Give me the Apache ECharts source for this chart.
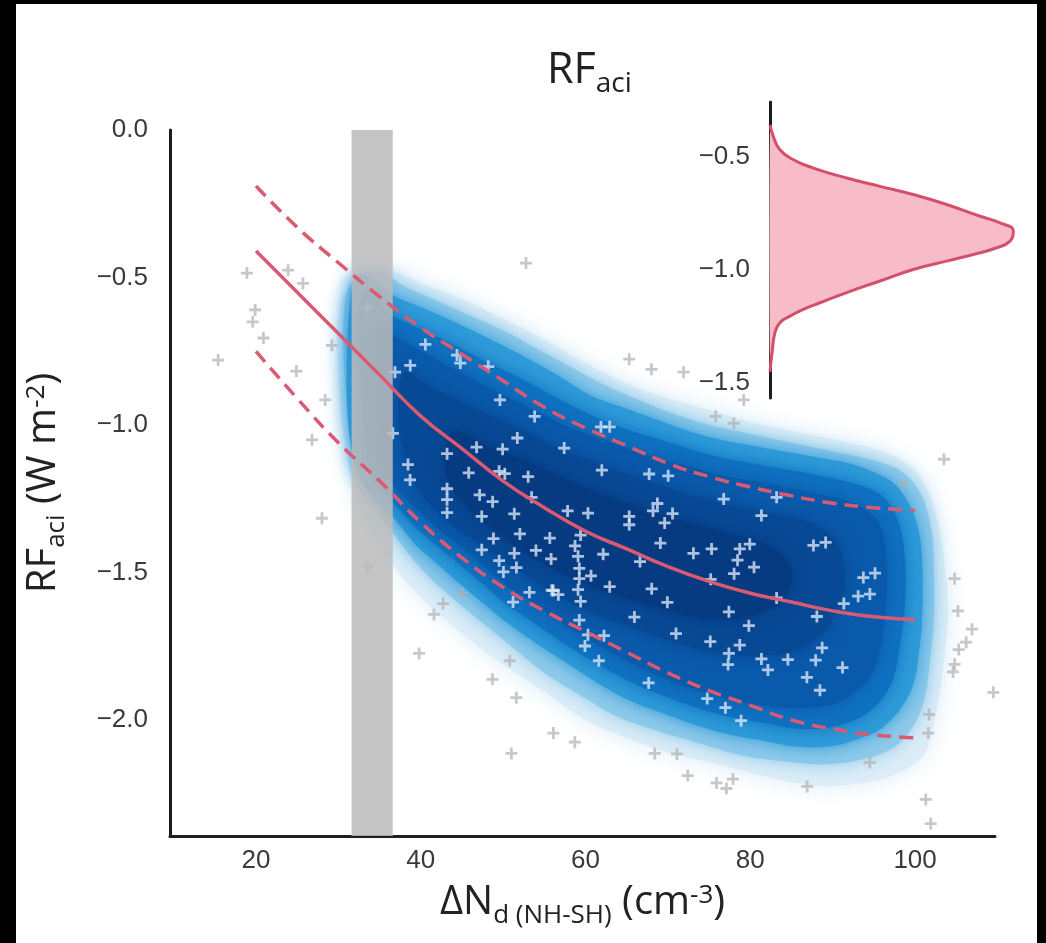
<!DOCTYPE html>
<html>
<head>
<meta charset="utf-8">
<script src="https://cdn.jsdelivr.net/npm/echarts@6/dist/echarts.min.js"></script>
<style>
html,body{margin:0;padding:0;background:#fff;}
#chart{width:1046px;height:943px;}
</style>
</head>
<body>
<div id="chart"></div>
<script>
// ---------- data ----------
const xTicks = [20, 40, 60, 80, 100];
const yTicks = [0, -0.5, -1.0, -1.5, -2.0];
const insetTicks = [-0.5, -1.0, -1.5];

// fitted relation and its bounds
const fitX     = [20, 25, 30, 35, 40, 45, 50, 55, 60, 65, 70, 75, 80, 85, 90, 95, 100];
const fitMid   = [-0.41, -0.55, -0.69, -0.83, -0.97, -1.08, -1.19, -1.28, -1.36, -1.42, -1.48, -1.53, -1.57, -1.60, -1.63, -1.65, -1.66];
const fitUpper = [-0.19, -0.33, -0.45, -0.565, -0.67, -0.76, -0.85, -0.94, -1.01, -1.07, -1.13, -1.175, -1.21, -1.24, -1.265, -1.28, -1.29];
const fitLower = [-0.75, -0.91, -1.06, -1.19, -1.33, -1.45, -1.55, -1.63, -1.70, -1.77, -1.84, -1.90, -1.95, -2.00, -2.03, -2.05, -2.06];

// observational constraint band (x range)
const bandX = [31.6, 36.6];

// density cloud: nested contour outlines [x, y], outer to inner
const cloudL0 = [[30,-0.62],[31.5,-0.52],[34,-0.46],[37,-0.48],[40,-0.52],[44.8,-0.57],[50,-0.64],[55,-0.71],[60.6,-0.80],[65,-0.86],[70,-0.91],[76.4,-0.96],[80,-0.99],[85,-1.02],[92,-1.06],[97,-1.10],[100.5,-1.17],[102.5,-1.3],[103.5,-1.45],[104,-1.62],[103.5,-1.8],[102.5,-1.98],[101,-2.12],[97,-2.19],[92,-2.22],[87,-2.22],[81.6,-2.19],[76,-2.15],[70,-2.11],[65.8,-2.07],[60,-2.0],[55.3,-1.91],[51,-1.83],[47.4,-1.76],[43,-1.66],[39.5,-1.57],[36,-1.45],[33,-1.3],[31,-1.1],[30,-0.85]];
const cloudL1 = [[30.8,-0.58],[32.5,-0.49],[35,-0.48],[38,-0.53],[42,-0.58],[46,-0.63],[50,-0.68],[54,-0.74],[58,-0.80],[62,-0.86],[66,-0.91],[70,-0.955],[75,-1.0],[80,-1.03],[85,-1.06],[90,-1.09],[95,-1.12],[98.5,-1.16],[100.8,-1.24],[102,-1.36],[102.3,-1.5],[102.3,-1.65],[101.8,-1.8],[100.8,-1.96],[98,-2.08],[94,-2.13],[89,-2.15],[84,-2.14],[79,-2.12],[74,-2.08],[69,-2.04],[64,-1.99],[59,-1.91],[55,-1.84],[51,-1.75],[47.5,-1.67],[44,-1.59],[40.5,-1.5],[37,-1.38],[34,-1.25],[32,-1.1],[30.8,-0.85]];
const cloudL2 = [[31.8,-0.50],[33,-0.49],[36.6,-0.56],[40,-0.60],[44.8,-0.66],[48.5,-0.71],[52.7,-0.77],[56.5,-0.83],[60.6,-0.90],[64.5,-0.94],[68.5,-0.98],[72.5,-1.02],[76.4,-1.05],[80.3,-1.07],[84.2,-1.09],[88.2,-1.11],[92.1,-1.13],[95,-1.16],[97.5,-1.2],[99.5,-1.28],[100.6,-1.38],[100.9,-1.5],[100.9,-1.62],[100.6,-1.74],[99.5,-1.9],[96.3,-2.02],[92.5,-2.07],[89.5,-2.09],[85.5,-2.09],[81.6,-2.07],[77.6,-2.05],[73.7,-2.02],[69.7,-1.98],[65.8,-1.94],[61.8,-1.88],[57.9,-1.81],[54,-1.74],[50,-1.66],[47.4,-1.60],[44.8,-1.54],[42,-1.47],[39.5,-1.41],[36.6,-1.31],[33.5,-1.22],[31.8,-1.12],[31,-0.85]];
const cloudL3 = [[33,-0.55],[36.6,-0.63],[40.4,-0.68],[44.8,-0.74],[48.6,-0.795],[52.7,-0.85],[56.6,-0.91],[60.6,-0.965],[64.5,-1.01],[68.5,-1.045],[72.5,-1.08],[76.4,-1.11],[80.3,-1.13],[84.2,-1.15],[88.2,-1.17],[92.1,-1.195],[96,-1.24],[98,-1.33],[98.8,-1.46],[98.8,-1.6],[98.3,-1.72],[97.2,-1.87],[94.5,-1.97],[90.5,-2.02],[86,-2.03],[81.6,-2.01],[77.6,-1.99],[73.7,-1.96],[69.7,-1.92],[65.8,-1.875],[61.8,-1.815],[57.9,-1.75],[54,-1.675],[50,-1.6],[47.4,-1.535],[44.8,-1.475],[42,-1.41],[39.5,-1.35],[36.6,-1.26],[34,-1.17],[32.8,-0.9]];
const cloudL4 = [[35,-0.66],[36.9,-0.70],[40.8,-0.76],[44.8,-0.82],[48.7,-0.88],[52.7,-0.935],[56.6,-0.99],[60.6,-1.035],[64.5,-1.075],[68.5,-1.11],[72.5,-1.14],[76.4,-1.17],[80.3,-1.19],[84.2,-1.21],[88.2,-1.235],[92.1,-1.26],[95.3,-1.32],[96.4,-1.42],[96.6,-1.55],[96.2,-1.68],[94.8,-1.84],[92,-1.92],[89.5,-1.95],[85.5,-1.96],[81.6,-1.95],[77.6,-1.93],[73.7,-1.90],[69.7,-1.86],[65.8,-1.81],[61.8,-1.75],[57.9,-1.685],[54,-1.61],[50,-1.535],[47.4,-1.47],[44.8,-1.41],[42,-1.35],[39.5,-1.285],[36.9,-1.21],[35,-1.12],[34.3,-0.9]];
const cloudL5 = [[38,-0.82],[41,-0.87],[44.8,-0.92],[48.7,-0.97],[52.7,-1.02],[56.6,-1.075],[60.6,-1.12],[64.5,-1.16],[68.5,-1.2],[72.5,-1.235],[76.4,-1.265],[80.3,-1.29],[84.2,-1.31],[88,-1.34],[90.5,-1.40],[91.5,-1.5],[91,-1.6],[89,-1.7],[86,-1.76],[82,-1.78],[78,-1.78],[74,-1.76],[70,-1.73],[66,-1.69],[62,-1.65],[58,-1.6],[54,-1.53],[50,-1.46],[46.5,-1.39],[43,-1.32],[40,-1.23],[38,-1.1],[37.3,-0.95]];
const cloudL6 = [[44,-1.02],[48,-1.07],[52.7,-1.12],[56.6,-1.17],[60.6,-1.22],[64.5,-1.26],[68.5,-1.3],[72.5,-1.33],[76.4,-1.36],[80.3,-1.39],[83.5,-1.43],[85,-1.5],[84,-1.59],[81,-1.64],[77,-1.66],[73,-1.65],[69,-1.62],[65,-1.59],[61,-1.55],[57,-1.5],[53,-1.44],[49.5,-1.37],[46,-1.29],[43.5,-1.2],[43,-1.1]];
const cloudLevels = [cloudL0, cloudL1, cloudL2, cloudL3, cloudL4, cloudL5, cloudL6];
const cloudColors = ['#dcedf7', '#8fcaea', '#2f9bd8', '#0f72c0', '#0a5aab', '#084995', '#063b82'];

// ensemble members: points over the cloud (light) and outside it (grey)
const membersIn = [[40.56,-0.727],[36.87,-0.821],[38.72,-0.798],[44.4,-0.763],[44.8,-0.79],[48.19,-0.802],[49.61,-0.915],[53.82,-0.971],[51.72,-1.044],[49.93,-1.082],[46.77,-1.075],[57.40,-1.078],[61.87,-1.006],[62.93,-1.006],[43.19,-1.097],[45.82,-1.162],[49.51,-1.157],[50.2,-1.165],[53.03,-1.175],[61.98,-1.153],[67.72,-1.166],[70.03,-1.172],[43.19,-1.216],[43.19,-1.253],[43.19,-1.297],[47.14,-1.237],[48.72,-1.260],[53.45,-1.245],[47.40,-1.310],[51.35,-1.301],[57.82,-1.291],[60.3,-1.299],[65.30,-1.310],[65.30,-1.338],[68.72,-1.266],[68.19,-1.291],[70.56,-1.300],[69.6,-1.332],[76.77,-1.251],[81.35,-1.307],[83.19,-1.245],[48.82,-1.385],[52.03,-1.369],[55.66,-1.383],[59.40,-1.373],[47.40,-1.423],[49.51,-1.460],[51.35,-1.435],[51.61,-1.483],[53.98,-1.425],[55.82,-1.454],[58.72,-1.410],[59.09,-1.445],[62.14,-1.438],[69.08,-1.400],[73.09,-1.435],[75.30,-1.420],[78.72,-1.420],[79.93,-1.404],[78.45,-1.458],[78.03,-1.504],[80.45,-1.482],[66.61,-1.463],[50.03,-1.498],[59.24,-1.486],[60.66,-1.511],[59.24,-1.521],[62.93,-1.548],[56.08,-1.561],[53.19,-1.567],[59.09,-1.558],[59.40,-1.598],[68.03,-1.555],[69.93,-1.601],[75.19,-1.523],[87.66,-1.408],[89.14,-1.398],[93.72,-1.517],[95.14,-1.502],[93.09,-1.580],[94.51,-1.573],[91.35,-1.605],[83.19,-1.586],[88.08,-1.649],[77.40,-1.633],[79.82,-1.680],[65.93,-1.651],[70.98,-1.707],[59.24,-1.661],[60.29,-1.711],[62.24,-1.714],[59.93,-1.749],[61.61,-1.799],[75.14,-1.734],[78.72,-1.746],[77.40,-1.774],[77.30,-1.812],[81.35,-1.793],[82.14,-1.830],[84.56,-1.795],[88.72,-1.755],[87.93,-1.797],[91.19,-1.822],[86.87,-1.855],[88.45,-1.899],[67.66,-1.874],[74.77,-1.927],[76.98,-1.958],[78.88,-2.002],[38.45,-1.134],[36.61,-1.028],[38.7,-1.186],[51.2,-1.60],[55.9,-1.56],[56.7,-1.575]];
const membersOut = [[52.77,-0.451],[65.3,-0.777],[68.0,-0.811],[71.9,-0.821],[79.2,-0.915],[75.8,-0.971],[78.0,-0.994],[103.5,-1.116],[98.6,-1.2],[104.8,-1.521],[105.2,-1.630],[106.9,-1.692],[106.2,-1.736],[105.3,-1.761],[104.8,-1.811],[104.6,-1.837],[109.5,-1.906],[101.7,-1.981],[101.6,-2.044],[101.3,-2.269],[101.9,-2.351],[41.6,-1.642],[42.7,-1.605],[45.0,-1.57],[39.8,-1.774],[50.8,-1.799],[48.7,-1.862],[51.6,-1.924],[56.1,-2.044],[58.7,-2.075],[51.0,-2.113],[68.4,-2.113],[71.1,-2.115],[72.4,-2.188],[75.9,-2.213],[77.1,-2.232],[77.9,-2.2],[86.9,-2.225],[94.5,-2.144],[18.9,-0.485],[23.9,-0.475],[25.7,-0.52],[19.9,-0.61],[19.6,-0.65],[20.9,-0.705],[15.4,-0.78],[29.2,-0.73],[24.9,-0.817],[28.4,-0.915],[26.8,-1.05],[28.0,-1.316],[33.5,-0.6],[33.5,-1.48]];

// inset: distribution of RF_aci (kernel density, arbitrary units)
const kdeY = [-0.36,-0.411,-0.469,-0.513,-0.55,-0.594,-0.631,-0.667,-0.711,-0.763,-0.792,-0.829,-0.873,-0.902,-0.932,-0.961,-0.998,-1.049,-1.1,-1.145,-1.174,-1.204,-1.233,-1.277,-1.365,-1.45];
const kdeD = [0,0.013,0.038,0.09,0.167,0.295,0.423,0.551,0.679,0.808,0.885,0.936,0.923,0.872,0.782,0.679,0.551,0.423,0.295,0.192,0.128,0.077,0.038,0.019,0.008,0];

// ---------- styles ----------
const RED = '#db5a72';
const AXIS = '#1e1e1e';
const TICKFONT = {fontFamily: 'Liberation Sans', fontSize: 26, color: '#3a3a3a'};
function rich(main, sub) {
  const f = 'Open Sans', c = '#222', w = 'normal';
  return {
    m: {fontFamily: f, fontWeight: w, fontSize: main, lineHeight: main + 6, verticalAlign: 'top', color: c},
    s: {fontFamily: f, fontWeight: w, fontSize: sub, lineHeight: sub + 2, padding: [Math.round(main * 0.6), 0, 0, 0], verticalAlign: 'bottom', color: c},
    p: {fontFamily: f, fontWeight: w, fontSize: sub, lineHeight: sub + 2, verticalAlign: 'top', color: c}
  };
}
const fmtY = v => (v === 0 ? '0.0' : '\u2212' + Math.abs(v).toFixed(1));
const plus = 'path://M5,0H8V5H13V8H8V13H5V8H0V5H5Z';

const X_MIN = 9.56, X_MAX = 109.7, Y_MIN = -2.393, Y_MAX = 0;

const chart = echarts.init(document.getElementById('chart'), null, {renderer: 'canvas'});
chart.setOption({
  backgroundColor: '#fff',
  animation: false,
  title: {
    text: '{m|RF}{s|aci}',
    left: 542, top: 44,
    textStyle: {fontWeight: 'normal', rich: rich(43, 28)}
  },
  graphic: [
    {type: 'rect', shape: {x: 0, y: 0, width: 16, height: 943}, style: {fill: '#000'}},
    {type: 'rect', shape: {x: 0, y: 0, width: 1046, height: 4}, style: {fill: '#000'}},
    {type: 'rect', shape: {x: 1037, y: 0, width: 9, height: 943}, style: {fill: '#000'}}
  ],
  grid: [
    {left: 170, top: 130, width: 825, height: 706, containLabel: false},
    {left: 770, top: 102, width: 260, height: 296, containLabel: false}
  ],
  xAxis: [
    {
      type: 'value', gridIndex: 0, min: X_MIN, max: X_MAX,
      axisLine: {show: true, onZero: false, lineStyle: {color: AXIS, width: 3}},
      axisTick: {show: false}, splitLine: {show: false},
      axisLabel: Object.assign({customValues: xTicks, margin: 12, formatter: v => String(v)}, TICKFONT),
      name: '{m|\u0394N}{s|d (NH-SH)}{m| (cm}{p|-3}{m|)}',
      nameLocation: 'middle', nameGap: 24,
      nameTextStyle: {rich: rich(40, 26)}
    },
    {
      type: 'value', gridIndex: 1, min: 0, max: 1, show: false
    }
  ],
  yAxis: [
    {
      type: 'value', gridIndex: 0, min: Y_MIN, max: Y_MAX,
      axisLine: {show: true, onZero: false, lineStyle: {color: AXIS, width: 3}},
      axisTick: {show: false}, splitLine: {show: false},
      axisLabel: Object.assign({customValues: yTicks, margin: 22, formatter: fmtY}, TICKFONT),
      name: '{m|RF}{s|aci}{m| (W m}{p|-2}{m|)}',
      nameLocation: 'middle', nameRotate: 90, nameGap: 100,
      nameTextStyle: {rich: rich(40, 26)}
    },
    {
      type: 'value', gridIndex: 1, min: -1.566, max: -0.258,
      axisLine: {show: true, onZero: false, lineStyle: {color: AXIS, width: 3}},
      axisTick: {show: false}, splitLine: {show: false},
      axisLabel: Object.assign({customValues: insetTicks, margin: 20, formatter: fmtY}, TICKFONT)
    }
  ],
  series: [
    {
      name: 'density', type: 'custom', xAxisIndex: 0, yAxisIndex: 0, z: 1, clip: true,
      data: cloudLevels.map(l => l[0]),
      renderItem: function (params, api) {
        const i = params.dataIndex;
        const pts = cloudLevels[i].map(p => api.coord(p));
        const col = cloudColors[i];
        return {
          type: 'polygon',
          shape: {points: pts, smooth: 0.35},
          style: {fill: col, shadowBlur: i === 0 ? 24 : 18, shadowColor: col}
        };
      }
    },
    {
      name: 'members-out', type: 'scatter', xAxisIndex: 0, yAxisIndex: 0, z: 2,
      symbol: plus, symbolSize: 12,
      itemStyle: {color: 'rgba(175,175,175,0.85)'},
      data: membersOut
    },
    {
      name: 'members-in', type: 'scatter', xAxisIndex: 0, yAxisIndex: 0, z: 2,
      symbol: plus, symbolSize: 12,
      itemStyle: {color: 'rgba(228,235,250,0.95)'},
      data: membersIn
    },
    {
      name: 'band', type: 'custom', xAxisIndex: 0, yAxisIndex: 0, z: 3,
      data: [[bandX[0], Y_MAX]],
      renderItem: function (params, api) {
        const a = api.coord([bandX[0], Y_MAX]);
        const b = api.coord([bandX[1], Y_MIN]);
        return {type: 'rect', shape: {x: a[0], y: a[1], width: b[0] - a[0], height: b[1] - a[1]},
                style: {fill: 'rgba(188,188,188,0.86)'}};
      }
    },
    {
      name: 'fit', type: 'line', xAxisIndex: 0, yAxisIndex: 0, z: 4, smooth: true,
      showSymbol: false, lineStyle: {color: RED, width: 3.5},
      data: fitX.map((x, i) => [x, fitMid[i]])
    },
    {
      name: 'upper', type: 'line', xAxisIndex: 0, yAxisIndex: 0, z: 4, smooth: true,
      showSymbol: false, lineStyle: {color: RED, width: 3.5, type: [14, 8]},
      data: fitX.map((x, i) => [x, fitUpper[i]])
    },
    {
      name: 'lower', type: 'line', xAxisIndex: 0, yAxisIndex: 0, z: 4, smooth: true,
      showSymbol: false, lineStyle: {color: RED, width: 3.5, type: [14, 8]},
      data: fitX.map((x, i) => [x, fitLower[i]])
    },
    {
      name: 'kde-fill', type: 'custom', xAxisIndex: 1, yAxisIndex: 1, z: 2,
      data: [[0, kdeY[0]]],
      renderItem: function (params, api) {
        const pts = kdeY.map((y, i) => api.coord([kdeD[i], y]));
        return {type: 'polygon', shape: {points: pts, smooth: 0.3}, style: {fill: '#f7bcc7'}};
      }
    },
    {
      name: 'kde', type: 'line', xAxisIndex: 1, yAxisIndex: 1, z: 3, smooth: true,
      showSymbol: false, lineStyle: {color: '#d4506a', width: 3},
      data: kdeY.map((y, i) => [kdeD[i], y])
    }
  ]
});
</script>
</body>
</html>
